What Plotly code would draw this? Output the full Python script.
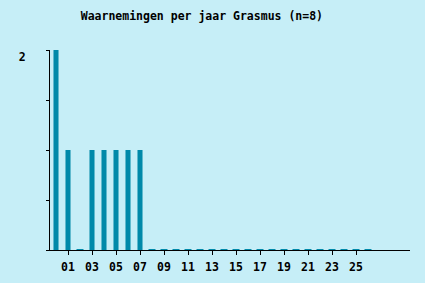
import plotly.graph_objects as go

years = [f"{i:02d}" for i in range(30)]
counts = [2, 1, 0, 1, 1, 1, 1, 1, 0, 0, 0, 0, 0, 0, 0, 0, 0, 0, 0, 0, 0, 0, 0, 0, 0, 0, 0]
tick_years = [f"{i:02d}" for i in range(1, 26, 2)]
title = "Waarnemingen per jaar Grasmus (n=8)"

bg = "#c6eef7"
barc = "#0089a9"

fig = go.Figure()
fig.add_bar(x=years[:len(counts)], y=counts, marker=dict(color=barc, line=dict(width=0)), width=0.42)
zx = [y for y, c in zip(years, counts) if c == 0]
fig.add_scatter(x=zx, y=[0] * len(zx), mode="markers",
                marker=dict(symbol="line-ew", size=5, line=dict(width=2, color=barc)),
                cliponaxis=False)

mono = "DejaVu Sans Mono"
fig.update_layout(
    width=425, height=283,
    margin=dict(l=50, r=15, t=50, b=33),
    paper_bgcolor=bg, plot_bgcolor=bg,
    showlegend=False,
    title=dict(text=title, x=0.475, xanchor="center", y=0.945, yanchor="middle",
               font=dict(family=mono, size=11.5, color="black", weight="bold")),
    bargap=0.58,
)
fig.update_xaxes(type="category", categoryorder="array", categoryarray=years,
                 range=[-0.5, 29.5], tickvals=tick_years, ticktext=tick_years,
                 ticks="outside", ticklen=4, tickcolor="black", showline=True,
                 linecolor="black", linewidth=1, showgrid=False, ticklabelstandoff=2,
                 automargin=False,
                 tickfont=dict(family=mono, size=11.5, color="black", weight="bold"))
fig.update_yaxes(range=[0, 2], tickvals=[0, 0.5, 1, 1.5, 2], ticktext=["", "", "", "", "2"],
                 ticks="outside", ticklen=3, tickcolor="black", showline=True,
                 linecolor="black", linewidth=1, showgrid=False, zeroline=False,
                 ticklabelstandoff=18, ticklabelshift=7, automargin=False,
                 tickfont=dict(family=mono, size=11.5, color="black", weight="bold"))
fig.write_html("out.html")
